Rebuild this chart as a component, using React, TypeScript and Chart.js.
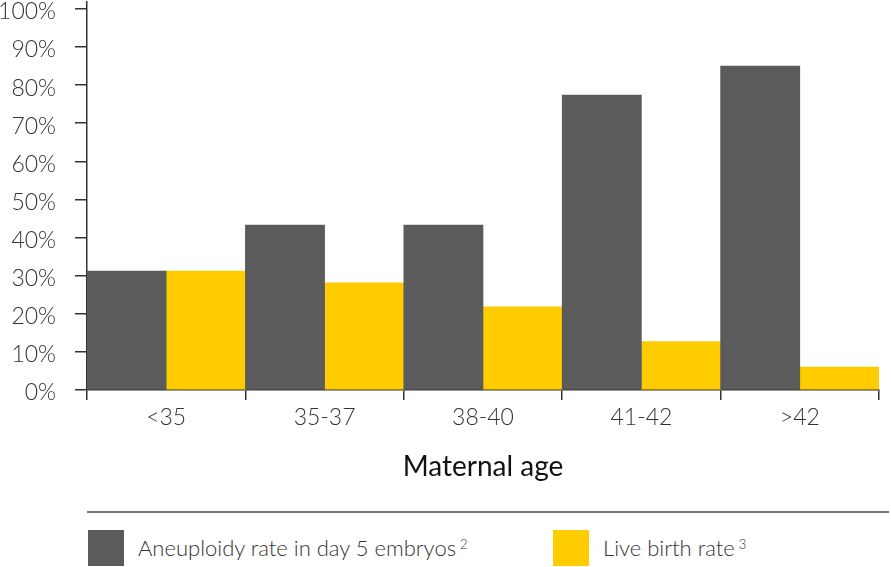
import { useEffect, useRef } from "react";
import Chart from "chart.js/auto";

// ─── Data ─────────────────────────────────────────────────────────────────────
const ageGroups = ["<35", "35-37", "38-40", "41-42", ">42"];
const aneuploidyRate = [31.2, 43.3, 43.3, 77.4, 85.0];
const liveBirthRate = [31.2, 28.1, 21.8, 12.7, 6.0];
const yTickValues = [0, 10, 20, 30, 40, 50, 60, 70, 80, 90, 100];

const GREY = "#5b5b5b";
const YELLOW = "#ffcc00";
const FONT = "Lato, 'Open Sans', sans-serif";

// ─── Component ────────────────────────────────────────────────────────────────
export default function App() {
  const canvasRef = useRef<HTMLCanvasElement | null>(null);
  const chartRef = useRef<any>(null);

  useEffect(() => {
    if (!canvasRef.current) return;
    if (chartRef.current) chartRef.current.destroy();

    chartRef.current = new Chart(canvasRef.current, {
      type: "bar",
      data: {
        labels: ageGroups,
        datasets: [
          { label: "Aneuploidy rate in day 5 embryos", data: aneuploidyRate, backgroundColor: GREY },
          { label: "Live birth rate", data: liveBirthRate, backgroundColor: YELLOW },
        ],
      },
      options: {
        animation: false,
        responsive: true,
        maintainAspectRatio: false,
        layout: { padding: { top: 2, right: 12, left: 0, bottom: 0 } },
        datasets: { bar: { barPercentage: 1, categoryPercentage: 1 } },
        plugins: { legend: { display: false }, tooltip: { enabled: false } },
        scales: {
          x: {
            offset: true,
            afterFit: (s: any) => { s.height = 110; s.paddingLeft = 0; s.paddingRight = 0; },
            grid: { offset: true, drawOnChartArea: false, drawTicks: true, tickLength: 10, color: "#333", lineWidth: 1.5 },
            border: { display: true, color: "#333", width: 1.5 },
            ticks: { color: "#333", padding: 4, font: { family: FONT, size: 23, weight: 300 } },
            title: {
              display: true,
              text: "Maternal age",
              color: "#111",
              padding: { top: 0, bottom: 16 },
              font: { family: FONT, size: 28, weight: 400, lineHeight: 1.2 },
            },
          },
          y: {
            min: 0,
            max: 101.8,
            afterFit: (s: any) => { s.width = 87; s.paddingTop = 0; s.paddingBottom = 0; },
            afterBuildTicks: (s: any) => { s.ticks = yTickValues.map((v) => ({ value: v })); },
            grid: { drawOnChartArea: false, drawTicks: true, tickLength: 12, color: "#333", lineWidth: 1.5 },
            border: { display: true, color: "#333", width: 1.5 },
            ticks: {
              color: "#333",
              padding: 19,
              labelOffset: 3,
              font: { family: FONT, size: 23, weight: 300 },
              callback: (v: any) => `${v}%`,
            },
          },
        },
      },
    });

    return () => { if (chartRef.current) chartRef.current.destroy(); };
  }, []);

  const legendText = { fontSize: 22, fontWeight: 300, color: "#333", fontFamily: FONT } as const;
  const sup = { fontSize: 13, verticalAlign: "top", position: "relative", top: -4, marginLeft: 4 } as const;

  return (
    <>
      <style>{`
        body { margin: 0; background: #fff; font-family: ${FONT}; }
      `}</style>
      <div style={{ width: 891, height: 567, position: "relative", background: "#fff" }}>
        {/* Chart */}
        <div style={{ position: "relative", width: 891, height: 500 }}>
          <canvas ref={canvasRef} />
        </div>

        {/* Separator */}
        <div style={{ position: "absolute", left: 87, top: 511, width: 802, height: 1.5, background: "#777" }} />

        {/* Legend */}
        <div style={{ position: "absolute", left: 88, top: 530, display: "flex", alignItems: "center" }}>
          <div style={{ width: 36, height: 36, background: GREY }} />
          <div style={{ ...legendText, marginLeft: 14, lineHeight: "36px" }}>
            Aneuploidy rate in day 5 embryos<span style={sup}>2</span>
          </div>
        </div>
        <div style={{ position: "absolute", left: 553, top: 530, display: "flex", alignItems: "center" }}>
          <div style={{ width: 36, height: 36, background: YELLOW }} />
          <div style={{ ...legendText, marginLeft: 14, lineHeight: "36px" }}>
            Live birth rate<span style={sup}>3</span>
          </div>
        </div>
      </div>
    </>
  );
}
